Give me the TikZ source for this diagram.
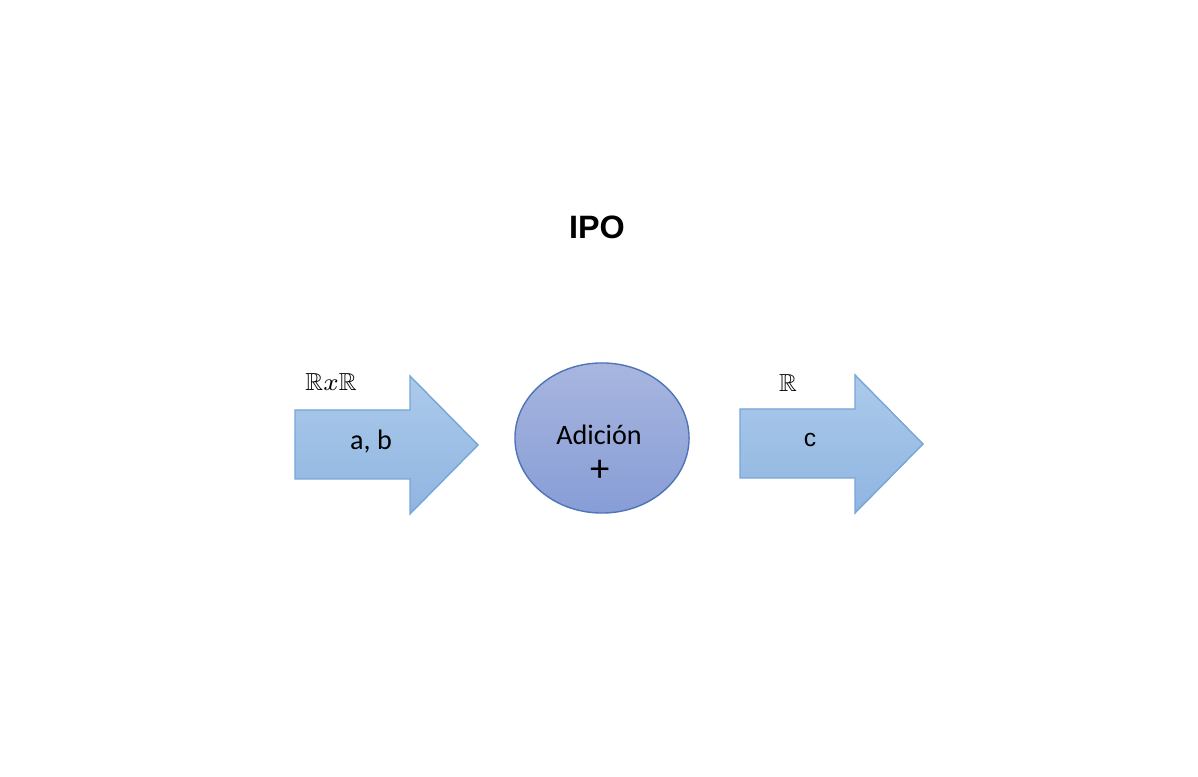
\documentclass[tikz,border=0pt]{standalone}
\usepackage{amssymb}
\usepackage{fontspec}
\setmainfont{Carlito}
\newfontfamily\arialfont{Liberation Sans}
\usetikzlibrary{shapes.geometric}
\definecolor{arrowtop}{HTML}{ACCAEB}
\definecolor{arrowbot}{HTML}{8FB5E0}
\definecolor{arrowline}{HTML}{76A5D8}
\definecolor{elltop}{HTML}{A8B6DF}
\definecolor{ellbot}{HTML}{879DD6}
\definecolor{ellline}{HTML}{4F74B8}

\begin{document}
\begin{tikzpicture}[x=0.01cm, y=-0.01cm,
    bigarrow/.style={top color=arrowtop, bottom color=arrowbot, draw=arrowline, line width=.4pt},
    procell/.style={ellipse, top color=elltop, bottom color=ellbot, draw=ellline, line width=.4pt,
      minimum width=1.74cm, minimum height=1.5cm, inner sep=0pt},
    lbl/.style={inner sep=0pt, font=\fontsize{8}{10}\selectfont},
    setlbl/.style={inner sep=0pt, font=\fontsize{7}{8}\selectfont}]
      \useasboundingbox (0, 0) rectangle (1198, 777);
      \path[bigarrow] (295, 410) -- (410, 410) -- (410, 376) -- (478, 445) -- (410, 514) -- (410, 479) -- (295, 479) -- cycle;
      \path[bigarrow] (740, 409) -- (855, 409) -- (855, 375) -- (923, 444) -- (855, 513) -- (855, 478) -- (740, 478) -- cycle;
      \node [procell] (add) at (602, 438) {};
      \node [lbl] (addtxt) at (599, 435) {Adición};
      \node [lbl, font=\fontsize{11}{12}\selectfont] (plus) at (600, 471) {+};
      \node [lbl] (inab) at (371, 442) {a, b};
      \node [lbl, font=\arialfont\fontsize{7}{9}\selectfont] (outc) at (810, 440) {c};
      \node [setlbl] (inset) at (331, 382) {$\mathbb{R}x\mathbb{R}$};
      \node [setlbl] (outset) at (788, 383) {$\mathbb{R}$};
      \node [inner sep=0pt, font=\arialfont\bfseries\fontsize{9.2}{11}\selectfont] (title) at (597, 227) {IPO};
\end{tikzpicture}
\end{document}
